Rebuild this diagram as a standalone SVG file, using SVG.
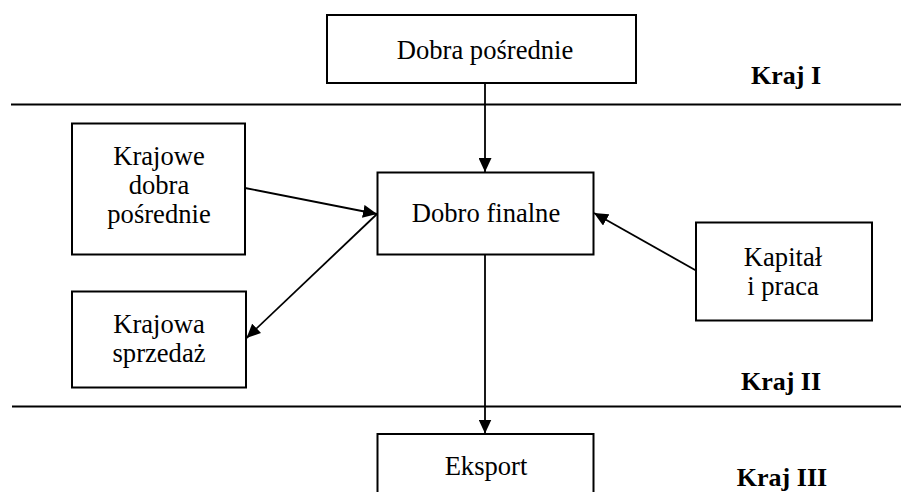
<svg xmlns="http://www.w3.org/2000/svg" width="901" height="492" viewBox="0 0 901 492">
<defs>
<style>
.box{fill:#fff;stroke:#000;stroke-width:2}
.t{font-family:"Liberation Serif","Times New Roman",serif;font-size:26.6px;fill:#000;text-anchor:middle}
.b{font-weight:bold;font-size:26px}
.sep{stroke:#000;stroke-width:2}
.c{stroke:#000;stroke-width:1.8;fill:none;marker-end:url(#ah)}
</style>
<marker id="ah" markerUnits="userSpaceOnUse" markerWidth="15" markerHeight="13" refX="14" refY="6.5" orient="auto">
<path d="M0,0 L14,6.5 L0,13 Z" fill="#000"/>
</marker>
</defs>
<g id="separators">
<line class="sep" x1="11" y1="104.5" x2="901" y2="104.5"/>
<line class="sep" x1="12" y1="406.5" x2="901" y2="406.5"/>
</g>
<g id="labels">
<text class="t b" x="786" y="84">Kraj I</text>
<text class="t b" x="781" y="390">Kraj II</text>
<text class="t b" x="782" y="486">Kraj III</text>
</g>
<g id="n-dobra-posrednie">
<rect class="box" x="327" y="15" width="309" height="68"/>
<text class="t" x="485" y="59">Dobra pośrednie</text>
</g>
<g id="n-krajowe">
<rect class="box" x="72" y="123.5" width="173" height="131"/>
<text class="t" x="159" y="165">Krajowe</text>
<text class="t" x="159" y="194">dobra</text>
<text class="t" x="159" y="223">pośrednie</text>
</g>
<g id="n-finalne">
<rect class="box" x="377.5" y="172.5" width="216" height="82"/>
<text class="t" x="486" y="222">Dobro finalne</text>
</g>
<g id="n-kapital">
<rect class="box" x="696" y="222.5" width="176" height="98"/>
<text class="t" x="783" y="266">Kapitał</text>
<text class="t" x="783" y="295">i praca</text>
</g>
<g id="n-sprzedaz">
<rect class="box" x="72" y="291.5" width="174" height="96"/>
<text class="t" x="159" y="333">Krajowa</text>
<text class="t" x="159" y="362">sprzedaż</text>
</g>
<g id="n-eksport">
<rect class="box" x="377.5" y="434" width="216" height="70"/>
<text class="t" x="486" y="475">Eksport</text>
</g>
<g id="connectors">
<line class="c" x1="485" y1="83" x2="485" y2="172"/>
<line class="c" x1="245" y1="188" x2="377" y2="214"/>
<line class="c" x1="377" y1="214" x2="246.5" y2="338"/>
<line class="c" x1="696" y1="270.5" x2="594" y2="213"/>
<line class="c" x1="485" y1="254.5" x2="485" y2="433.5"/>
</g>
</svg>
